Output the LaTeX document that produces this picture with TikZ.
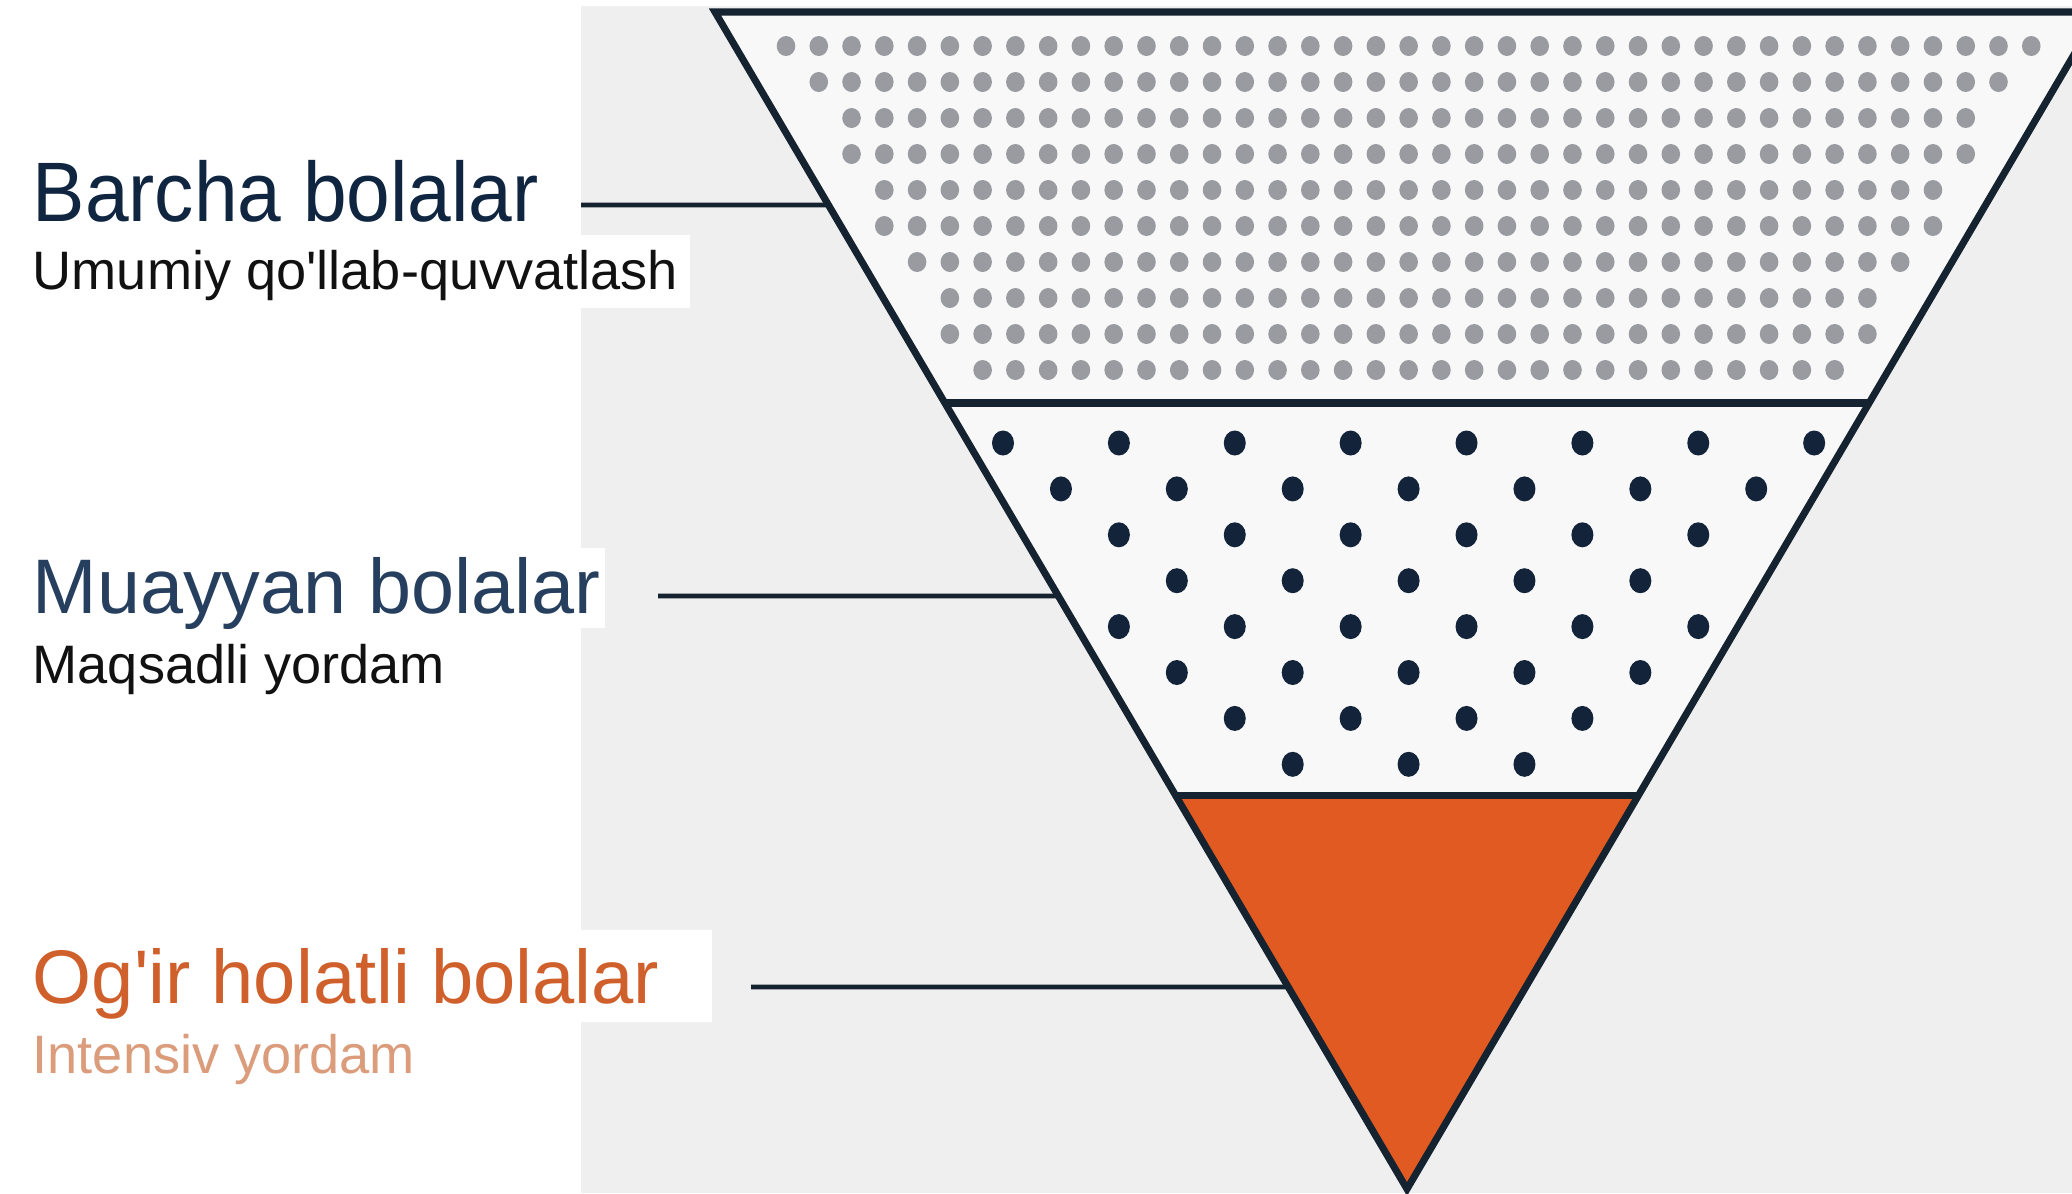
\documentclass[tikz,border=0pt]{standalone}
\usepackage{fontspec}
\setmainfont{Liberation Sans}
\newfontfamily\narrowsans[FakeStretch=0.93]{Liberation Sans}
\usetikzlibrary{calc}
\definecolor{outl}{HTML}{15222F}
\definecolor{bggrey}{HTML}{EFEFEF}
\definecolor{inner}{HTML}{F8F8F8}
\definecolor{dotgrey}{HTML}{9A9BA0}
\definecolor{dotnavy}{HTML}{13243A}
\definecolor{orfill}{HTML}{E05A22}
\definecolor{titlenavy}{HTML}{0F2540}
\definecolor{titleslate}{HTML}{263F5E}
\definecolor{titleorange}{HTML}{D0602B}
\definecolor{subsalmon}{HTML}{DB9C7B}
\definecolor{subblack}{HTML}{111111}
\tikzset{
  outline/.style={draw=outl, line width=2pt, line join=miter},
  connector/.style={draw=outl, line width=1.4pt},
  titletext/.style={anchor=base west, inner sep=0pt, font=\fontsize{22}{26}\selectfont},
  subtext/.style={anchor=base west, inner sep=0pt, font=\fontsize{15.4}{18}\selectfont},
}
\begin{document}
\begin{tikzpicture}[x=0.01cm,y=-0.01cm]
\useasboundingbox (0,0) rectangle (2072,1193);
\clip (0,0) rectangle (2072,1193);
% backgrounds
\fill[bggrey] (0,0) rectangle (2072,1193);
\fill[white] (0,0) rectangle (581,1193);
\fill[white] (581,0) rectangle (2072,6);
\fill[white] (581,235) rectangle (690,308);
\fill[white] (581,548) rectangle (605,628);
\fill[white] (581,930) rectangle (712,1022);
% triangle geometry
\coordinate (A) at (715,12);
\coordinate (B) at (2099,12);
\coordinate (P) at (1407,1189);
\coordinate (L1) at (945,403);
\coordinate (R1) at (1869,403);
\coordinate (L2) at (1175,795);
\coordinate (R2) at (1639,795);
\fill[inner] (A) -- (B) -- (P) -- cycle;
\fill[orfill] (L2) -- (R2) -- (P) -- cycle;
% grey dots (top band)
\foreach \r/\a/\b in {0/0/38,1/1/37,2/2/36,3/2/36,4/3/35,5/3/35,6/4/34,7/5/33,8/5/33,9/6/32}{
  \foreach \k in {\a,...,\b}{
    \fill[dotgrey] ({786+32.77*\k},{46+36*\r}) ellipse [x radius=0.093cm, y radius=0.1cm];
  }
}
% navy dots (middle band)
\foreach \r/\a/\b in {0/0/14,1/1/13,2/2/12,3/3/11,4/2/12,5/3/11,6/4/10,7/5/9}{
  \pgfmathtruncatemacro{\nxt}{\a+2}
  \foreach \j in {\a,\nxt,...,\b}{
    \fill[dotnavy] ({1003+57.94*\j},{443+45.9*\r}) ellipse [x radius=0.11cm, y radius=0.125cm];
  }
}
% outlines
\draw[outline] (L1) -- (R1);
\draw[outline] (L2) -- (R2);
\draw[outline] (A) -- (B) -- (P) -- cycle;
% texts
\node[titletext, text=titlenavy, font=\narrowsans\fontsize{24}{28}\selectfont] (t1) at (32,221) {Barcha bolalar};
\node[subtext, text=subblack] (s1) at (32,289) {Umumiy qo\textquotesingle llab-quvvatlash};
\node[titletext, text=titleslate] (t2) at (32,613) {Muayyan bolalar};
\node[subtext, text=subblack] (s2) at (32,683) {Maqsadli yordam};
\node[titletext, text=titleorange, font=\fontsize{21.6}{26}\selectfont] (t3) at (32,1003) {Og\textquotesingle ir holatli bolalar};
\node[subtext, text=subsalmon] (s3) at (32,1073) {Intensiv yordam};
% connectors
\coordinate (c1a) at (581,205);
\coordinate (c1b) at ($(A)!{(205-12)/1177}!(P)$);
\coordinate (c2a) at (658,596);
\coordinate (c2b) at ($(A)!{(596-12)/1177}!(P)$);
\coordinate (c3a) at (751,987);
\coordinate (c3b) at ($(A)!{(987-12)/1177}!(P)$);
\draw[connector] (c1a) -- (c1b);
\draw[connector] (c2a) -- (c2b);
\draw[connector] (c3a) -- (c3b);
\end{tikzpicture}
\end{document}
